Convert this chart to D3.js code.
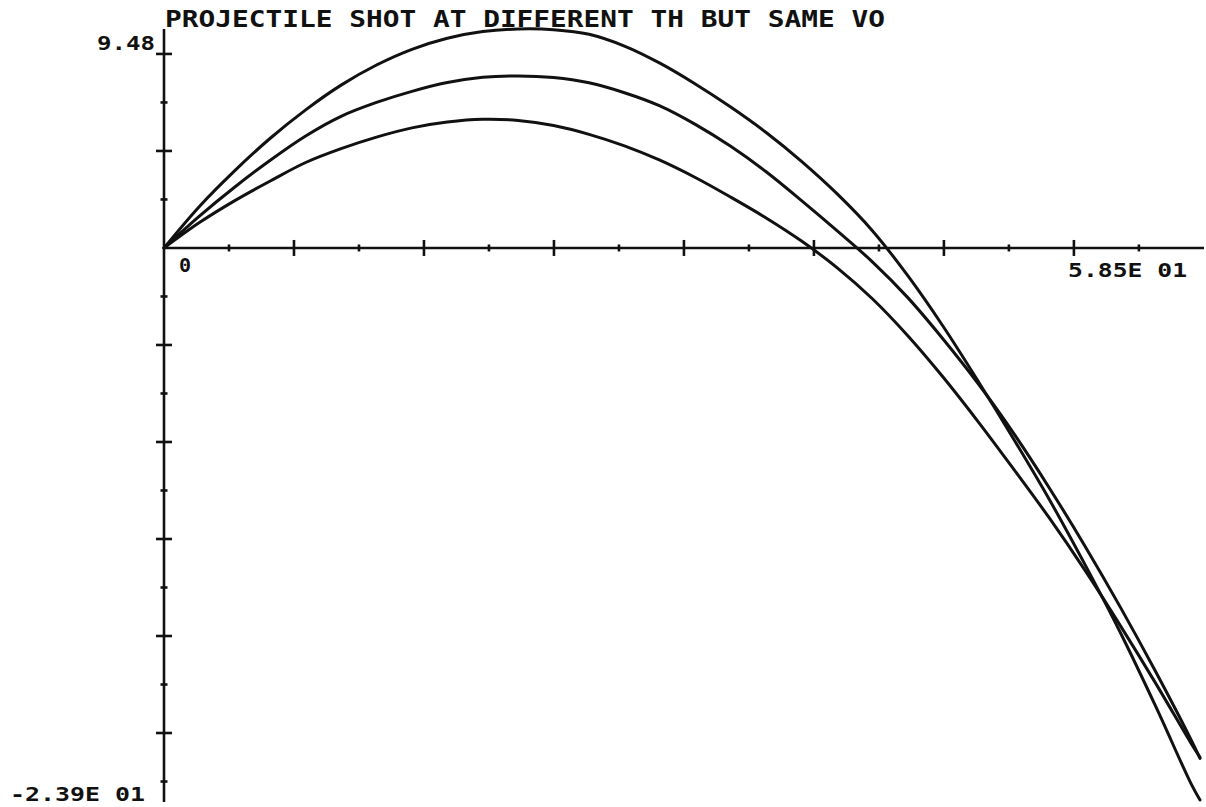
<!DOCTYPE html>
<html>
<head>
<meta charset="utf-8">
<script src="https://cdn.jsdelivr.net/npm/d3@7"></script>
<style>
  body { margin: 0; background: #fff; }
  text { font-family: "DejaVu Sans Mono", "Liberation Mono", monospace; font-weight: bold; fill: #111; }
</style>
</head>
<body>
<svg id="chart" width="1206" height="807"></svg>
<script>
// Horizontal distance samples shared by the three trajectories
const xValues = [0, 2, 4, 6, 8, 10, 12, 14, 16, 18, 20, 22, 24, 26, 28, 30,
                 32, 34, 36, 38, 40, 42, 44, 46, 48, 50, 52, 54, 56, 58, 58.5];

// Height of each trajectory (same launch speed, three launch angles)
const lowAngle = [0, 1.10, 2.05, 2.90, 3.70, 4.30, 4.80, 5.20, 5.45, 5.57, 5.52,
                  5.30, 4.92, 4.42, 3.80, 3.05, 2.20, 1.30, 0.30, -0.85, -2.20,
                  -3.80, -5.60, -7.55, -9.60, -11.70, -13.95, -16.35, -18.85, -21.45, -22.05];
const midAngle = [0, 1.38, 2.64, 3.80, 4.85, 5.70, 6.30, 6.78, 7.16, 7.39, 7.45,
                  7.38, 7.15, 6.72, 6.15, 5.35, 4.40, 3.30, 2.05, 0.75, -0.60,
                  -2.15, -3.95, -5.90, -8.05, -10.40, -12.90, -15.55, -18.35, -21.30, -22.10];
const highAngle = [0, 1.80, 3.35, 4.75, 5.98, 7.05, 7.92, 8.60, 9.08, 9.37, 9.48,
                   9.45, 9.25, 8.74, 8.00, 7.10, 6.10, 5.00, 3.75, 2.35, 0.75,
                   -1.20, -3.40, -5.80, -8.30, -10.90, -13.70, -16.65, -19.85, -23.20, -23.90];

// Axis extents and tick marks (every second tick is a long one)
const xDomain = [0, 58.5];
const yDomain = [-23.9, 9.48];
const xTickValues = [3.67, 7.34, 11.01, 14.68, 18.35, 22.02, 25.69, 29.36,
                     33.03, 36.70, 40.37, 44.04, 47.71, 51.38, 55.05];
const yTickValues = [8.4, 6.3, 4.2, 2.1, -2.1, -4.2, -6.3, -8.4, -10.5, -12.6,
                     -14.7, -16.8, -18.9, -21.0, -23.1];

// Texts
const titleText = "PROJECTILE SHOT AT DIFFERENT TH BUT SAME VO";
const xEndLabels = ["0", "5.85E 01"];
const yEndLabels = ["9.48", "-2.39E 01"];

const svg = d3.select("#chart");
const x = d3.scaleLinear().domain(xDomain).range([164, 1200]);
const y = d3.scaleLinear().domain(yDomain).range([800, 29]);

const ink = "#111";

// Axes
const axes = svg.append("g").attr("stroke", ink).attr("stroke-width", 2.6).attr("fill", "none");
axes.append("line")
  .attr("x1", x(0)).attr("x2", x(xDomain[1]) + 4)
  .attr("y1", y(0)).attr("y2", y(0));
axes.append("line")
  .attr("x1", x(0)).attr("x2", x(0))
  .attr("y1", y(yDomain[1])).attr("y2", y(yDomain[0]) + 2);

const isMajor = (v, step) => Math.round(v / step) % 2 === 0;

axes.selectAll(".xtick").data(xTickValues).join("line")
  .attr("class", "xtick")
  .attr("x1", d => x(d)).attr("x2", d => x(d))
  .attr("y1", d => y(0) - (isMajor(d, 3.67) ? 8 : 3.5))
  .attr("y2", d => y(0) + (isMajor(d, 3.67) ? 8 : 3.5));

axes.selectAll(".ytick").data(yTickValues).join("line")
  .attr("class", "ytick")
  .attr("y1", d => y(d)).attr("y2", d => y(d))
  .attr("x1", d => x(0) - (isMajor(d, 2.1) ? 8 : 3.5))
  .attr("x2", d => x(0) + (isMajor(d, 2.1) ? 8 : 3.5));

// Trajectories
const line = d3.line()
  .x(d => x(d[0]))
  .y(d => y(d[1]))
  .curve(d3.curveCatmullRom.alpha(0.5));

const series = [lowAngle, midAngle, highAngle];
svg.append("g").selectAll("path").data(series).join("path")
  .attr("d", s => line(xValues.map((v, i) => [v, s[i]])))
  .attr("fill", "none")
  .attr("stroke", ink)
  .attr("stroke-width", 3)
  .attr("stroke-linejoin", "round")
  .attr("stroke-linecap", "round");

// Title
svg.append("text")
  .attr("x", x(0) + 1).attr("y", y(yDomain[1]) - 2)
  .attr("font-size", 23)
  .attr("textLength", 720).attr("lengthAdjust", "spacingAndGlyphs")
  .text(titleText);

// End labels on the y axis
svg.append("text")
  .attr("x", x(0) - 9).attr("y", y(yTickValues[0]) - 4)
  .attr("text-anchor", "end").attr("font-size", 20)
  .attr("textLength", 58).attr("lengthAdjust", "spacingAndGlyphs")
  .text(yEndLabels[0]);
svg.append("text")
  .attr("x", x(0) - 19).attr("y", y(yDomain[0]) + 1)
  .attr("text-anchor", "end").attr("font-size", 20)
  .attr("textLength", 135).attr("lengthAdjust", "spacingAndGlyphs")
  .text(yEndLabels[1]);

// End labels on the x axis
svg.append("text")
  .attr("x", x(0) + 15).attr("y", y(0) + 24)
  .attr("font-size", 20)
  .text(xEndLabels[0]);
svg.append("text")
  .attr("x", x(xDomain[1]) - 132).attr("y", y(0) + 29)
  .attr("font-size", 20)
  .attr("textLength", 119).attr("lengthAdjust", "spacingAndGlyphs")
  .text(xEndLabels[1]);
</script>
</body>
</html>
